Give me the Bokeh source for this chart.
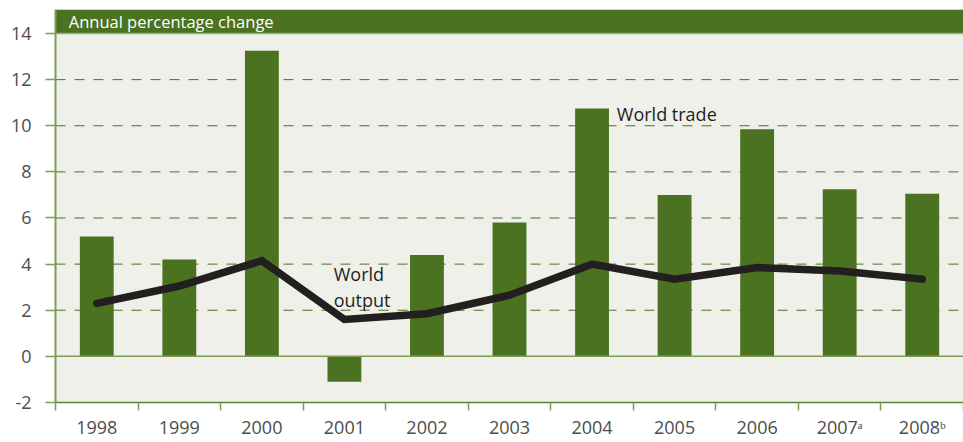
from bokeh.plotting import figure
from bokeh.models import ColumnDataSource, FixedTicker, Range1d, Span
from bokeh.core.properties import value
from bokeh.embed import file_html
from bokeh.resources import INLINE

years = ["1998", "1999", "2000", "2001", "2002", "2003", "2004", "2005", "2006", "2007\u1d43", "2008\u1d47"]
world_trade = [5.2, 4.2, 13.25, -1.1, 4.4, 5.8, 10.75, 7.0, 9.85, 7.25, 7.05]
world_output = [2.3, 3.05, 4.15, 1.6, 1.85, 2.65, 4.0, 3.35, 3.85, 3.7, 3.35]
y_ticks = [-2, 0, 2, 4, 6, 8, 10, 12, 14]
header_text = "Annual percentage change"

GREEN = "#4a7220"
BG = "#eef0e9"
FONT = "Open Sans"

n = len(years)
xpos = [i + 0.5 for i in range(n)]
src = ColumnDataSource(dict(x=xpos, trade=world_trade, output=world_output))

p = figure(frame_width=908, frame_height=393, output_backend="svg", toolbar_location=None,
           x_range=Range1d(0, n), y_range=Range1d(-2, 15.04),
           min_border_left=55, min_border_top=9, min_border_bottom=0, min_border_right=0)
p.background_fill_color = BG
p.border_fill_color = "white"
p.outline_line_color = None
p.grid.visible = False

# dashed grid lines
for yv in y_ticks:
    if yv in (-2, 14):
        continue
    if yv == 0:
        p.add_layout(Span(location=0, dimension="width", line_color="#7f9c55", line_width=1.5))
    else:
        p.add_layout(Span(location=yv, dimension="width", line_color=GREEN, line_width=1,
                          line_dash="10 9", level="underlay"))

# header band
p.quad(left=0, right=n, bottom=14, top=15.04, fill_color=GREEN, line_color=None)
p.segment(x0=0, x1=n, y0=14, y1=14, line_color="#9ab27a", line_width=1.5)
p.text(x=[0.16], y=[14.52], text=[header_text], text_color="white", text_font_size="16.5px",
       text_font=value(FONT), text_baseline="middle")

# bars
p.vbar(x="x", top="trade", bottom=0, width=0.41, source=src, fill_color=GREEN, line_color=None)

# line
p.line(x="x", y="output", source=src, line_color="#231f20", line_width=7.5,
       line_cap="round", line_join="miter")

# annotations
p.text(x=[6.8], y=[10.5], text=["World trade"], text_color="#231f20", text_font_size="18px",
       text_font=value(FONT), text_baseline="middle")
p.text(x=[3.37, 3.37], y=[3.55, 2.45], text=["World", "output"], text_color="#231f20",
       text_font_size="18px", text_font=value(FONT), text_baseline="middle")

# axes
p.yaxis.ticker = FixedTicker(ticks=y_ticks)
p.yaxis.major_label_overrides = {t: str(t) for t in y_ticks}
p.yaxis.axis_line_color = "#7f9c55"
p.yaxis.axis_line_width = 2
p.yaxis.major_tick_line_color = "#7f9c55"
p.yaxis.major_tick_line_width = 1.5
p.yaxis.major_tick_out = 10
p.yaxis.major_tick_in = 0
p.yaxis.minor_tick_line_color = None
p.yaxis.major_label_standoff = 14
p.yaxis.major_label_text_font_size = "18px"
p.yaxis.major_label_text_font = FONT
p.yaxis.major_label_text_color = "#4d4d4d"

p.xaxis.ticker = FixedTicker(ticks=xpos, minor_ticks=list(range(n + 1)))
p.xaxis.major_label_overrides = {x: y for x, y in zip(xpos, years)}
p.xaxis.axis_line_color = "#5c852f"
p.xaxis.axis_line_width = 1.5
p.xaxis.major_tick_line_color = None
p.xaxis.minor_tick_line_color = "#7f9c55"
p.xaxis.minor_tick_line_width = 1.5
p.xaxis.minor_tick_out = 8
p.xaxis.minor_tick_in = 0
p.xaxis.major_tick_out = 0
p.xaxis.major_label_standoff = 4
p.xaxis.major_label_text_font_size = "18px"
p.xaxis.major_label_text_font = FONT
p.xaxis.major_label_text_color = "#4d4d4d"

open("out.html", "w").write(file_html(p, INLINE))
